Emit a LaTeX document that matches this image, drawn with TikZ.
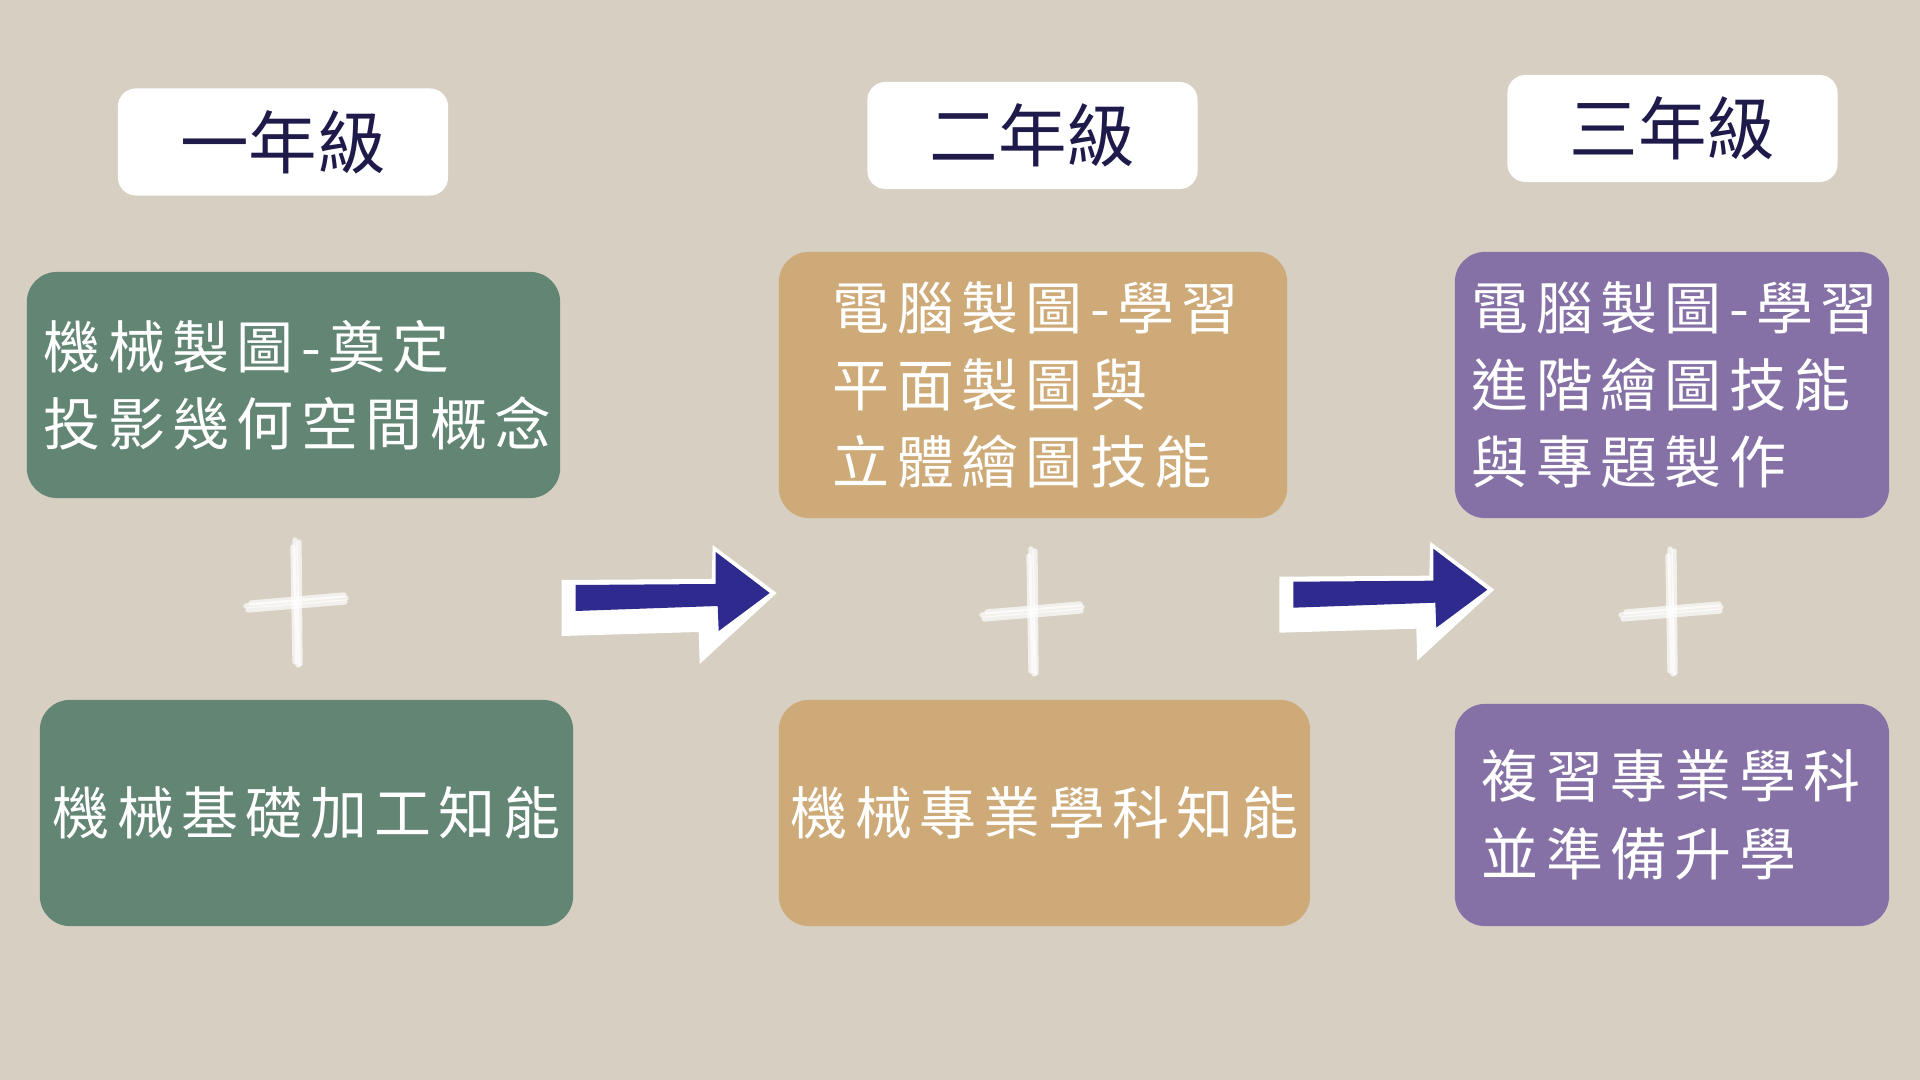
\documentclass[tikz,border=0pt]{standalone}
\usepackage{fontspec}
\usepackage{xcolor}
\usepackage{tikz}
\usetikzlibrary{positioning}
\setmainfont{Noto Sans CJK TC}
\newfontfamily\cardfont[LetterSpace=13]{Noto Sans CJK TC}
\definecolor{plan-bg}{RGB}{214,207,194}
\definecolor{plan-green}{RGB}{98,133,116}
\definecolor{plan-tan}{RGB}{205,170,120}
\definecolor{plan-purple}{RGB}{133,113,166}
\definecolor{plan-navy}{RGB}{46,42,142}
\definecolor{label-navy}{RGB}{30,27,75}

\tikzset{
  yearlabel/.style={fill=white, rounded corners=0.18cm, inner sep=0pt,
    minimum width=3.3cm, minimum height=1.07cm, text=label-navy,
    font=\fontsize{19.5pt}{23pt}\selectfont},
  card/.style={rounded corners=0.3cm, inner sep=0pt, text=white, align=left,
    font=\cardfont\fontsize{16.2pt}{22pt}\selectfont},
  chalk/.style={white, opacity=0.7, line width=1.5pt, line cap=round},
  year arrow/.pic={
    \fill[white] (-14,-5) -- (136,-6) -- (137,-40) -- (201,8) -- (124,79)
      -- (123,47) -- (-14,51) -- cycle;
    \fill[plan-navy] (0,0) -- (140,-1) -- (140,-33) -- (194,8) -- (143,46)
      -- (142,21) -- (0,26) -- cycle;
  },
  chalk plus/.pic={
    \draw[chalk] (-1,-62) -- (2,63);
    \draw[chalk] (3,-60) -- (4,62);
    \draw[chalk] (-3,-55) -- (-1,60);
    \draw[chalk] (-50,4) -- (50,-4);
    \draw[chalk] (-48,8) -- (49,0);
    \draw[chalk] (-45,1) -- (48,-7);
  }
}

\begin{document}
\begin{tikzpicture}[x=0.01cm, y=-0.01cm]
  \fill[plan-bg] (0,0) rectangle (1920,1080);
  \useasboundingbox (0,0) rectangle (1920,1080);

  % Year 1
  \node[yearlabel] (year1) at (283,142) {一年級};
  \node[card, fill=plan-green, minimum width=5.33cm, minimum height=2.26cm,
    text width=4.99cm] (draw1) at (293.5,385) {機械製圖-奠定\\投影幾何空間概念};
  \pic at (296,602) {chalk plus};
  \node[card, fill=plan-green, minimum width=5.33cm, minimum height=2.26cm,
    align=center] (skill1) at (306.5,813) {機械基礎加工知能};

  % Year 2
  \node[yearlabel] (year2) at (1032.5,135.5) {二年級};
  \node[card, fill=plan-tan, minimum width=5.08cm, minimum height=2.66cm,
    text width=4.0cm] (draw2) at (1033,385) {電腦製圖-學習\\平面製圖與\\立體繪圖技能};
  \pic at (1032,611) {chalk plus};
  \node[card, fill=plan-tan, minimum width=5.31cm, minimum height=2.26cm,
    align=center] (skill2) at (1044.5,813) {機械專業學科知能};

  % Year 3
  \node[yearlabel] (year3) at (1672.5,128.5) {三年級};
  \node[card, fill=plan-purple, minimum width=4.34cm, minimum height=2.66cm,
    text width=4.0cm] (draw3) at (1672,385) {電腦製圖-學習\\進階繪圖技能\\與專題製作};
  \pic at (1671,611) {chalk plus};
  \node[card, fill=plan-purple, minimum width=4.34cm, minimum height=2.22cm,
    text width=3.8cm] (skill3) at (1672,815) {複習專業學科\\並準備升學};

  % Arrows between years
  \pic at (575.7,585) {year arrow};
  \pic at (1293.3,581.7) {year arrow};
\end{tikzpicture}
\end{document}
